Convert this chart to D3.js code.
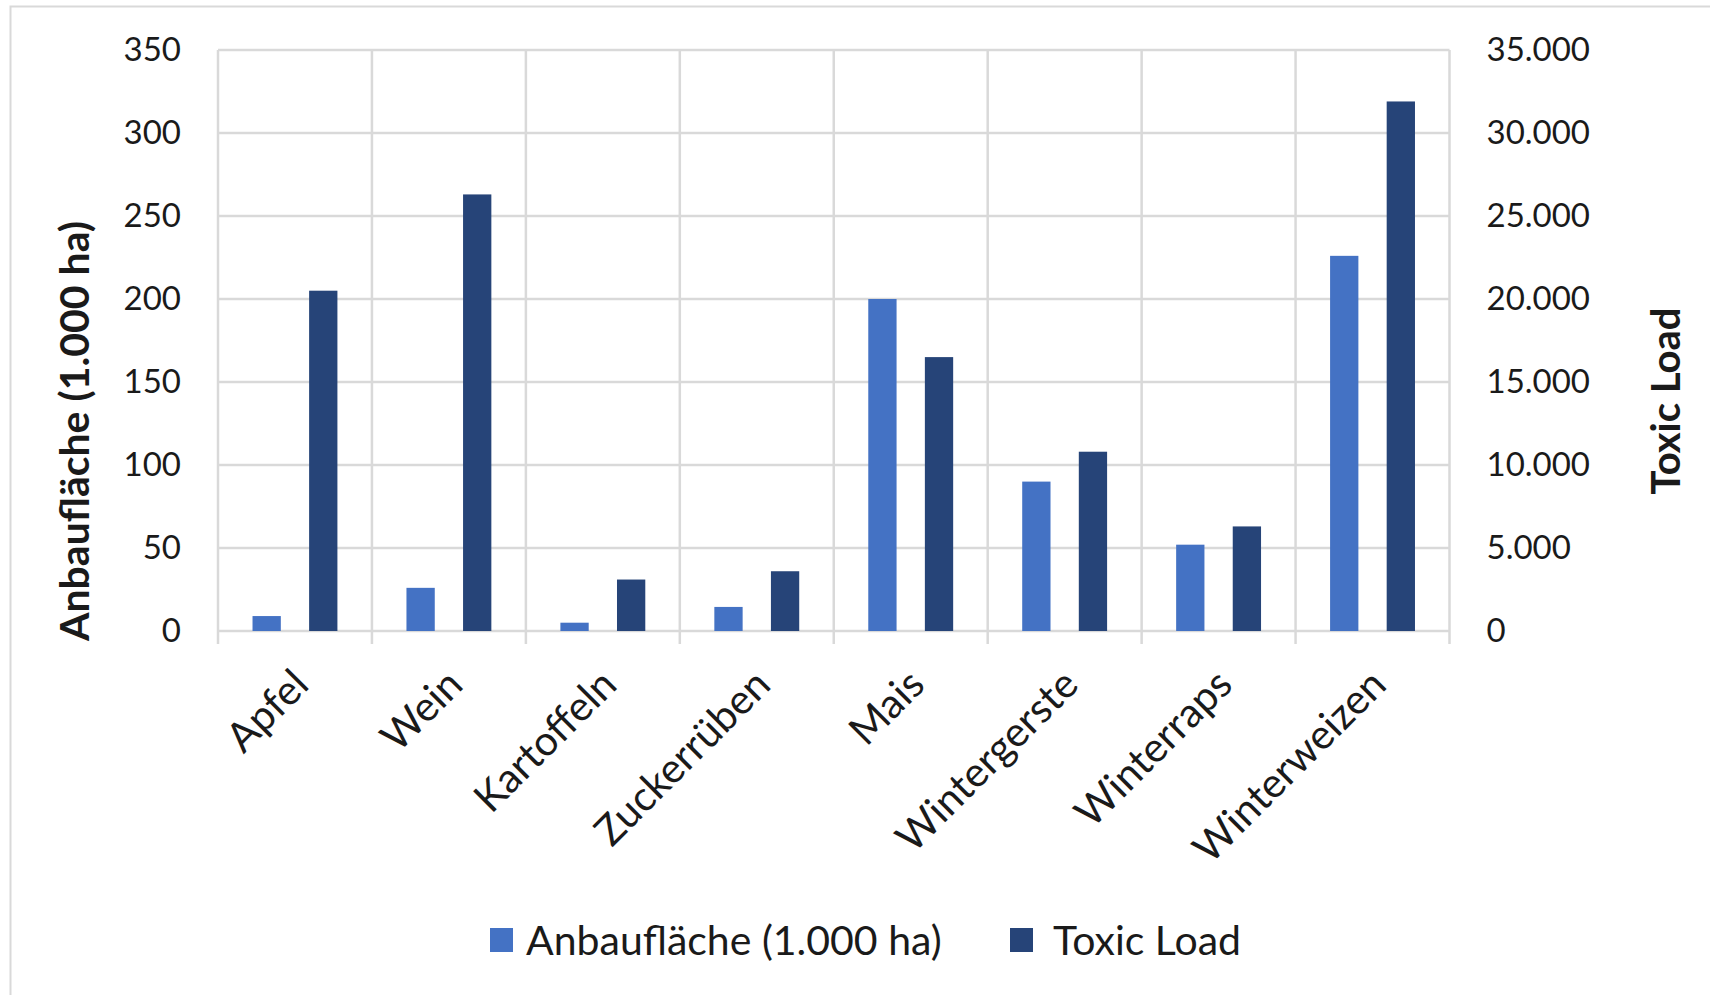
<!DOCTYPE html>
<html>
<head>
<meta charset="utf-8">
<script src="https://cdn.jsdelivr.net/npm/d3@7"></script>
<style>
  html, body { margin: 0; padding: 0; background: #ffffff; }
  svg { display: block; }
  text { font-family: Lato, "Open Sans", sans-serif; fill: #1a1a1a; }
</style>
</head>
<body>
<svg id="chart" width="1710" height="995"></svg>
<script>
// Kulturen (categories)
const categories = ["Apfel", "Wein", "Kartoffeln", "Zuckerrüben", "Mais", "Wintergerste", "Winterraps", "Winterweizen"];
// Anbaufläche in 1.000 ha (left axis)
const areaValues = [9, 26, 5, 14.5, 200, 90, 52, 226];
// Toxic Load (right axis)
const toxicValues = [20500, 26300, 3100, 3600, 16500, 10800, 6300, 31900];
// Axis ticks
const leftTicks = [0, 50, 100, 150, 200, 250, 300, 350];
const rightTicks = [0, 5000, 10000, 15000, 20000, 25000, 30000, 35000];
const seriesNames = ["Anbaufläche (1.000 ha)", "Toxic Load"];
const seriesColors = ["#4472C4", "#264478"];

const svg = d3.select("#chart");
const plot = { left: 218, right: 1449.5, top: 50, bottom: 631 };
const gridColor = "#d9d9d9";
const tickFont = "33px";
const labelFont = "41px";

// chart frame
svg.append("rect")
  .attr("x", 10.5).attr("y", 6.5)
  .attr("width", 1800).attr("height", 1200)
  .attr("fill", "none").attr("stroke", gridColor).attr("stroke-width", 2);

const x = d3.scaleBand().domain(categories).range([plot.left, plot.right]).padding(0);
const xInner = d3.scaleBand().domain([0, 1]).range([0, x.bandwidth()])
  .paddingInner(0.5).paddingOuter(0.61);
const yLeft = d3.scaleLinear().domain([0, 350]).range([plot.bottom, plot.top]);
const yRight = d3.scaleLinear().domain([0, 35000]).range([plot.bottom, plot.top]);

// horizontal gridlines
svg.append("g").selectAll("line").data(leftTicks).join("line")
  .attr("x1", plot.left).attr("x2", plot.right)
  .attr("y1", d => yLeft(d)).attr("y2", d => yLeft(d))
  .attr("stroke", gridColor).attr("stroke-width", 2.5);

// vertical gridlines at category boundaries (extend below axis as ticks)
const bounds = categories.map(c => x(c)).concat([plot.right]);
svg.append("g").selectAll("line").data(bounds).join("line")
  .attr("x1", d => d).attr("x2", d => d)
  .attr("y1", plot.top).attr("y2", plot.bottom + 13)
  .attr("stroke", gridColor).attr("stroke-width", 2.5);

// bars
const seriesData = [areaValues, toxicValues];
const scales = [yLeft, yRight];
seriesData.forEach((vals, si) => {
  svg.append("g").selectAll("rect").data(vals).join("rect")
    .attr("x", (d, i) => x(categories[i]) + xInner(si))
    .attr("width", xInner.bandwidth())
    .attr("y", d => scales[si](d))
    .attr("height", d => plot.bottom - scales[si](d))
    .attr("fill", seriesColors[si]);
});

// left axis
const axL = svg.append("g").attr("transform", `translate(${plot.left},0)`)
  .call(d3.axisLeft(yLeft).tickValues(leftTicks).tickSize(0).tickPadding(37));
axL.select(".domain").remove();
axL.selectAll("text").style("font-size", tickFont).style("font-family", "Lato, sans-serif").attr("fill", "#1a1a1a");

// right axis
const fmtDE = d => d3.format(",")(d).replace(/,/g, ".");
const axR = svg.append("g").attr("transform", `translate(${plot.right},0)`)
  .call(d3.axisRight(yRight).tickValues(rightTicks).tickFormat(fmtDE).tickSize(0).tickPadding(37));
axR.select(".domain").remove();
axR.selectAll("text").style("font-size", tickFont).style("font-family", "Lato, sans-serif").attr("fill", "#1a1a1a");

// x axis labels, rotated
const axX = svg.append("g").attr("transform", `translate(0,${plot.bottom})`)
  .call(d3.axisBottom(x).tickSize(0).tickPadding(0));
axX.select(".domain").remove();
axX.selectAll("text")
  .style("font-size", labelFont).style("font-family", "Lato, sans-serif").attr("fill", "#1a1a1a")
  .attr("text-anchor", "end")
  .attr("dy", null).attr("y", null)
  .attr("transform", "translate(16,56) rotate(-45)");

// axis titles
svg.append("text")
  .attr("transform", "translate(89,431) rotate(-90)")
  .attr("text-anchor", "middle")
  .style("font-size", "41px").style("font-weight", "bold")
  .text("Anbaufläche (1.000 ha)");
svg.append("text")
  .attr("transform", "translate(1680,401) rotate(-90)")
  .attr("text-anchor", "middle")
  .style("font-size", "40px").style("font-weight", "bold")
  .text("Toxic Load");

// legend
const legendItems = [{ x: 490, tx: 526 }, { x: 1010, tx: 1053 }];
legendItems.forEach((it, i) => {
  svg.append("rect").attr("x", it.x).attr("y", 928).attr("width", 23).attr("height", 24)
    .attr("fill", seriesColors[i]);
  svg.append("text").attr("x", it.tx).attr("y", 940).attr("dy", "0.36em")
    .style("font-size", labelFont).text(seriesNames[i]);
});
</script>
</body>
</html>
